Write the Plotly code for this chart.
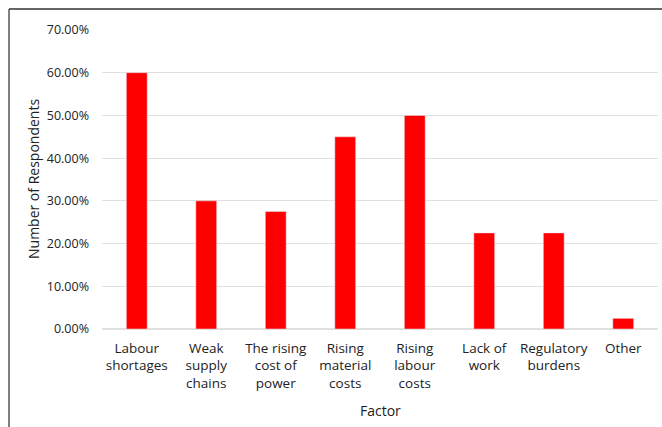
import plotly.graph_objects as go

categories = ["Labour<br>shortages", "Weak<br>supply<br>chains", "The rising<br>cost of<br>power",
              "Rising<br>material<br>costs", "Rising<br>labour<br>costs", "Lack of<br>work",
              "Regulatory<br>burdens", "Other"]
values = [0.60, 0.30, 0.275, 0.45, 0.50, 0.225, 0.225, 0.025]
y_ticks = [0, 0.1, 0.2, 0.3, 0.4, 0.5, 0.6, 0.7]

W, H = 662, 427
L, R, T, B = 102, 4, 30, 98
pw, ph = W - L - R, H - T - B

def px_x(x):
    return (x - L) / pw

def px_y(y):
    return (H - B - y) / ph

font_family = "Open Sans, Lato, sans-serif"

fig = go.Figure(go.Bar(x=categories, y=values, marker_color="#ff0000", width=0.3))

fig.update_layout(
    width=W, height=H,
    margin=dict(l=L, r=R, t=T, b=B),
    paper_bgcolor="white", plot_bgcolor="white",
    font=dict(family=font_family, size=13, color="#222222"),
    showlegend=False,
    xaxis=dict(showgrid=False, showline=False, ticks="", tickfont=dict(size=13.5),
               ticklabelstandoff=9),
    yaxis=dict(range=[0, 0.7], tickvals=y_ticks, tickformat=".2%", showgrid=True,
               gridcolor="#e0e0e0", gridwidth=1, zeroline=True, zerolinecolor="#e0e0e0",
               ticks="", ticklabelstandoff=12, tickfont=dict(size=12.5)),
    annotations=[
        dict(text="Factor", xref="paper", yref="paper", x=px_x(380), y=px_y(410),
             showarrow=False, font=dict(size=14), xanchor="center", yanchor="middle"),
        dict(text="Number of Respondents", xref="paper", yref="paper", x=px_x(33), y=px_y(179),
             showarrow=False, font=dict(size=14), textangle=-90, xanchor="center", yanchor="middle"),
    ],
    shapes=[
        dict(type="line", xref="paper", yref="paper", x0=px_x(9), x1=px_x(W + 5),
             y0=px_y(9), y1=px_y(9), line=dict(color="#333333", width=1.5)),
        dict(type="line", xref="paper", yref="paper", x0=px_x(9), x1=px_x(9),
             y0=px_y(9), y1=px_y(H + 5), line=dict(color="#555555", width=1.5)),
    ],
)

fig.write_html("out.html")
